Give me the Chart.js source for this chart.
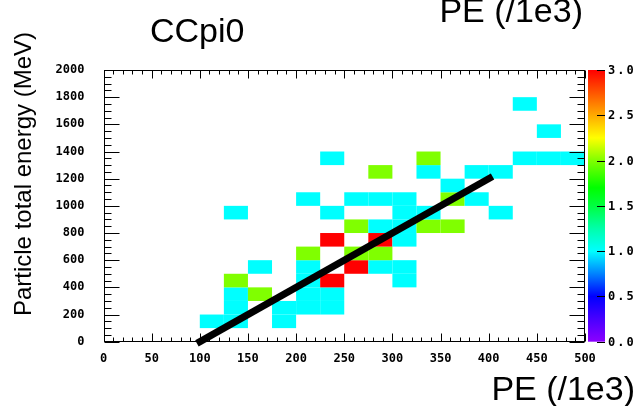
<!DOCTYPE html>
<html>
<head>
<meta charset="utf-8">
<script src="https://cdn.jsdelivr.net/npm/chart.js@4"></script>
<style>
  body { margin: 0; background: #fff; }
  canvas { display: block; }
</style>
</head>
<body>
<canvas id="hist" width="644" height="406"></canvas>
<script>
// bin sizes of the 2D histogram
const binPE = 25;
const binMeV = 100;

// filled cells: low edge in PE (/1e3), low edge in MeV, entries
const cellPE = [
  100, 125, 175,
  125, 175, 200, 225,
  125, 150, 200, 225,
  125, 200, 225, 300,
  150, 200, 250, 275, 300,
  200, 250, 275,
  225, 275, 300,
  250, 275, 300, 325, 350,
  125, 225, 300, 325, 400,
  200, 250, 275, 300, 350, 375,
  350,
  275, 325, 375, 400,
  225, 325, 425, 450, 475,
  450,
  425
];
const cellMeV = [
  100, 100, 100,
  200, 200, 200, 200,
  300, 300, 300, 300,
  400, 400, 400, 400,
  500, 500, 500, 500, 500,
  600, 600, 600,
  700, 700, 700,
  800, 800, 800, 800, 800,
  900, 900, 900, 900, 900,
  1000, 1000, 1000, 1000, 1000, 1000,
  1100,
  1200, 1200, 1200, 1200,
  1300, 1300, 1300, 1300, 1300,
  1500,
  1700
];
const cellCount = [
  1, 1, 1,
  1, 1, 1, 1,
  1, 2, 1, 1,
  2, 1, 3, 1,
  1, 1, 3, 1, 1,
  2, 2, 2,
  3, 3, 1,
  2, 1, 1, 2, 2,
  1, 1, 1, 1, 1,
  1, 1, 1, 1, 2, 1,
  1,
  2, 1, 1, 1,
  1, 2, 1, 1, 1,
  1,
  1
];

// fitted line drawn over the histogram
const lineX = [97, 404];
const lineY = [-12, 1216];

// colour axis
const zTicks = [0, 0.5, 1, 1.5, 2, 2.5, 3];

const paletteStops = [
  [0.0, [140, 0, 255]],
  [0.25, [72, 0, 255]],
  [0.5, [0, 0, 255]],
  [0.75, [0, 130, 255]],
  [1.0, [0, 255, 255]],
  [1.25, [0, 255, 170]],
  [1.5, [0, 255, 64]],
  [1.7, [0, 255, 0]],
  [2.0, [128, 255, 0]],
  [2.25, [255, 255, 0]],
  [2.5, [255, 170, 0]],
  [2.75, [255, 85, 0]],
  [3.0, [255, 0, 0]]
];

function paletteColor(v) {
  for (let i = 1; i < paletteStops.length; i++) {
    const [v1, c1] = paletteStops[i];
    if (v <= v1) {
      const [v0, c0] = paletteStops[i - 1];
      const t = (v - v0) / (v1 - v0);
      const c = c0.map((ch, k) => Math.round(ch + (c1[k] - ch) * t));
      return `rgb(${c[0]},${c[1]},${c[2]})`;
    }
  }
  return 'rgb(255,0,0)';
}

const tickFont = 'bold 12px "DejaVu Sans Mono"';
const titleFont = '34px "Liberation Sans", Arial, sans-serif';

// ROOT style: cells, frame with inward ticks, palette
const rootPlugin = {
  id: 'rootStyle',
  beforeDatasetsDraw(chart) {
    const { ctx, chartArea: a, scales } = chart;
    const x = scales.x, y = scales.y, z = scales.z;
    ctx.save();

    for (let i = 0; i < cellPE.length; i++) {
      const x0 = x.getPixelForValue(cellPE[i]);
      const x1 = x.getPixelForValue(cellPE[i] + binPE);
      const y0 = y.getPixelForValue(cellMeV[i]);
      const y1 = y.getPixelForValue(cellMeV[i] + binMeV);
      ctx.fillStyle = paletteColor(cellCount[i]);
      ctx.fillRect(x0, y1, x1 - x0, y0 - y1);
    }

    ctx.strokeStyle = '#000';
    ctx.lineWidth = 1;
    const L = Math.round(a.left) + 0.5, R = Math.round(a.right) - 0.5;
    const T = Math.round(a.top) + 0.5, B = Math.round(a.bottom) - 0.5;
    ctx.strokeRect(L, T, R - L, B - T);

    ctx.beginPath();
    for (let v = x.min; v <= x.max; v += 10) {
      const px = Math.round(x.getPixelForValue(v)) + 0.5;
      const len = v % 50 === 0 ? 8 : 4;
      ctx.moveTo(px, B); ctx.lineTo(px, B - len);
      ctx.moveTo(px, T); ctx.lineTo(px, T + len);
    }
    for (let v = y.min; v <= y.max; v += 50) {
      const py = Math.round(y.getPixelForValue(v)) + 0.5;
      const len = v % 200 === 0 ? 15 : 7;
      ctx.moveTo(L, py); ctx.lineTo(L + len, py);
      ctx.moveTo(R, py); ctx.lineTo(R - len, py);
    }
    ctx.stroke();

    // palette bar
    const barL = 588, barR = 605;
    const zTop = z.getPixelForValue(z.max), zBot = z.getPixelForValue(z.min);
    const grad = ctx.createLinearGradient(0, zBot, 0, zTop);
    paletteStops.forEach(([v, c]) => grad.addColorStop(v / z.max, `rgb(${c[0]},${c[1]},${c[2]})`));
    ctx.fillStyle = grad;
    ctx.fillRect(barL, zTop, barR - barL, zBot - zTop);

    ctx.beginPath();
    ctx.font = tickFont;
    ctx.letterSpacing = '2px';
    ctx.fillStyle = '#000';
    ctx.textAlign = 'left';
    ctx.textBaseline = 'middle';
    zTicks.forEach(v => {
      const py = Math.round(z.getPixelForValue(v)) + 0.5;
      ctx.moveTo(barR, py); ctx.lineTo(barR - 8, py);
      ctx.fillText(v.toFixed(1), barR + 3, py);
    });
    ctx.stroke();
    ctx.restore();
  },
  afterDraw(chart) {
    const ctx = chart.ctx;
    ctx.save();
    ctx.fillStyle = '#000';
    ctx.font = titleFont;
    ctx.textBaseline = 'alphabetic';
    ctx.textAlign = 'left';
    ctx.fillText('CCpi0', 150, 42);
    ctx.textAlign = 'right';
    ctx.fillText('PE (/1e3)', 583, 22);
    ctx.fillText('PE (/1e3)', 635, 400);

    ctx.font = '24px "Liberation Sans", Arial, sans-serif';
    ctx.translate(31, 174);
    ctx.rotate(-Math.PI / 2);
    ctx.textAlign = 'center';
    ctx.fillText('Particle total energy (MeV)', 0, 0);
    ctx.restore();
  }
};

const ctx = document.getElementById('hist');

new Chart(ctx, {
  type: 'scatter',
  data: {
    datasets: [{
      label: 'fit',
      data: lineX.map((v, i) => ({ x: v, y: lineY[i] })),
      showLine: true,
      borderColor: '#000',
      borderWidth: 7,
      borderCapStyle: 'butt',
      pointRadius: 0,
      clip: false
    }]
  },
  options: {
    responsive: false,
    animation: false,
    layout: { padding: { left: 0, right: 59, top: 70, bottom: 0 } },
    plugins: {
      legend: { display: false },
      tooltip: { enabled: false }
    },
    scales: {
      x: {
        type: 'linear',
        min: 0,
        max: 500,
        grid: { display: false },
        border: { display: false },
        ticks: {
          stepSize: 50,
          maxRotation: 0,
          padding: 2,
          color: '#000',
          font: { family: 'DejaVu Sans Mono', weight: 'bold', size: 12 },
          callback: v => String(v)
        },
        afterFit: s => { s.height = 64.3; }
      },
      y: {
        type: 'linear',
        min: 0,
        max: 2000,
        grid: { display: false },
        border: { display: false },
        ticks: {
          stepSize: 200,
          padding: 11,
          color: '#000',
          font: { family: 'DejaVu Sans Mono', weight: 'bold', size: 12 },
          callback: v => String(v)
        },
        afterFit: s => { s.width = 103.5; }
      },
      z: {
        type: 'linear',
        position: 'right',
        display: false,
        min: 0,
        max: 3
      }
    }
  },
  plugins: [rootPlugin]
});
</script>
</body>
</html>
